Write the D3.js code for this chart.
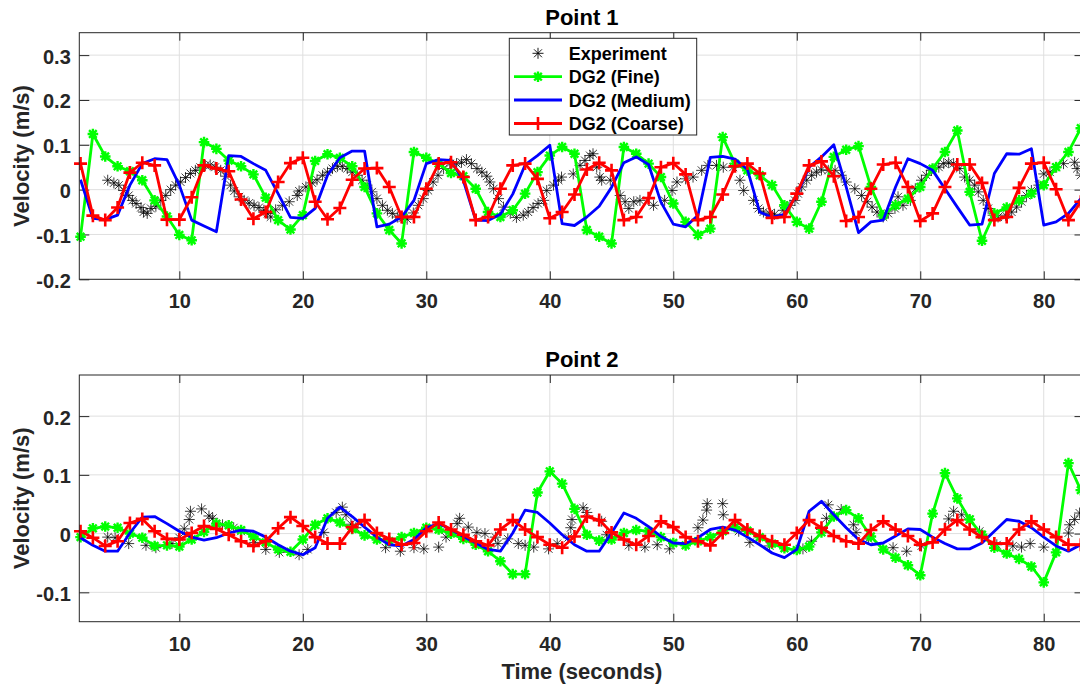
<!DOCTYPE html>
<html><head><meta charset="utf-8">
<script src="https://cdn.jsdelivr.net/npm/d3@7"></script>
<style>
body{margin:0;background:#fff}
text{font-family:"Liberation Sans",Arial,Helvetica,sans-serif;font-weight:bold}
</style>
</head><body><svg id="c" width="1080" height="688"></svg>
<script>
// ---------------- data ----------------
const times = [2,3,4,5,6,7,8,9,10,11,12,13,14,15,16,17,18,19,20,21,22,23,24,25,26,27,28,29,30,31,32,33,34,35,36,37,38,39,40,41,42,43,44,45,46,47,48,49,50,51,52,53,54,55,56,57,58,59,60,61,62,63,64,65,66,67,68,69,70,71,72,73,74,75,76,77,78,79,80,81,82,83];
const xTickValues = [10,20,30,40,50,60,70,80];
const p1YTicks = [-0.2,-0.1,0,0.1,0.2,0.3];
const p2YTicks = [-0.1,0,0.1,0.2];
const seriesNames = ["Experiment","DG2 (Fine)","DG2 (Medium)","DG2 (Coarse)"];
const panelTitles = ["Point 1","Point 2"];

const p1Fine = [-0.105,0.124,0.074,0.052,0.041,0.021,-0.024,-0.060,-0.101,-0.113,
 0.106,0.091,0.065,0.052,0.034,-0.018,-0.068,-0.089,-0.057,0.064,
 0.079,0.071,0.052,0.006,-0.053,-0.090,-0.120,0.084,0.071,0.058,
 0.037,0.030,0.002,-0.050,-0.061,-0.046,-0.009,0.039,0.076,0.095,
 0.080,-0.090,-0.105,-0.120,0.095,0.080,0.058,0.028,-0.031,-0.072,
 -0.101,-0.087,0.117,0.058,0.043,0.032,0.010,-0.035,-0.072,-0.087,
 -0.027,0.073,0.089,0.097,0.006,-0.057,-0.035,-0.020,0.006,0.047,
 0.084,0.132,-0.005,-0.114,-0.053,-0.040,-0.024,-0.009,0.010,0.050,
 0.084,0.137];
const p1Medium = [0.022,-0.064,-0.067,-0.057,0.010,0.058,0.069,0.067,0.010,-0.068,
 -0.081,-0.094,0.076,0.074,0.058,0.043,-0.009,-0.062,-0.064,-0.042,
 0.032,0.071,0.086,0.086,-0.083,-0.077,-0.061,-0.024,0.058,0.067,
 0.065,0.020,-0.068,-0.069,-0.055,-0.010,0.055,0.076,0.099,-0.076,
 -0.080,-0.061,-0.037,0.005,0.060,0.073,0.056,-0.028,-0.077,-0.083,
 -0.057,0.072,0.074,0.068,0.045,-0.050,-0.062,-0.055,-0.012,0.050,
 0.073,0.100,0.006,-0.096,-0.072,-0.068,0.006,0.069,0.058,0.043,
 0.002,-0.039,-0.079,-0.077,0.036,0.080,0.079,0.091,-0.079,-0.072,
 -0.053,-0.020];
const p1Coarse = [0.058,-0.058,-0.068,-0.040,0.038,0.060,0.054,-0.067,-0.067,-0.017,
 0.054,0.047,0.041,-0.022,-0.065,-0.050,0.017,0.059,0.071,-0.027,
 -0.066,-0.041,0.022,0.047,0.048,0.006,-0.061,-0.061,0.002,0.058,
 0.061,0.028,-0.068,-0.061,0.002,0.054,0.058,0.024,-0.064,-0.050,
 -0.011,0.045,0.060,0.043,-0.068,-0.061,-0.019,0.050,0.059,0.034,
 -0.068,-0.061,-0.011,0.052,0.058,0.036,-0.063,-0.061,-0.009,0.054,
 0.063,0.030,-0.070,-0.061,0.002,0.056,0.060,0.006,-0.070,-0.053,
 0.006,0.056,0.056,0.015,-0.068,-0.061,0.004,0.058,0.060,0.001,
 -0.068,-0.027];
const p1Experiment = [[4.2,0.021],[4.7,0.015],[5.1,0.010],[5.5,-0.002],[5.9,-0.013],[6.2,-0.024],[6.5,-0.031],[6.9,-0.040],[7.1,-0.050],[7.4,-0.053],[7.7,-0.042],[8.1,-0.037],[8.5,-0.024],[8.9,-0.013],[9.3,0.000],[9.7,0.010],[10.1,0.017],[10.5,0.027],[10.9,0.036],[11.3,0.043],[11.7,0.050],[12.1,0.054],[12.5,0.055],[12.9,0.050],[13.35,0.043],[13.75,0.030],[14.15,0.010],[14.45,-0.003],[14.85,-0.016],[15.25,-0.024],[15.65,-0.030],[16.05,-0.035],[16.45,-0.040],[16.85,-0.046],[17.15,-0.053],[17.4,-0.061],[17.8,-0.045],[18.35,-0.035],[18.9,-0.027],[19.55,-0.013],[19.7,-0.003],[20.25,0.006],[20.75,0.015],[21.15,0.022],[21.6,0.032],[22.0,0.039],[22.4,0.047],[22.8,0.052],[23.2,0.052],[23.6,0.047],[24.0,0.039],[24.4,0.032],[24.8,0.021],[25.2,0.010],[25.6,-0.005],[26.0,-0.020],[26.45,-0.035],[26.85,-0.046],[27.25,-0.053],[27.65,-0.061],[28.05,-0.064],[28.45,-0.066],[28.95,-0.052],[29.35,-0.035],[29.75,-0.020],[30.15,-0.002],[30.55,0.017],[30.95,0.032],[31.4,0.047],[31.9,0.058],[32.45,0.058],[32.85,0.061],[33.25,0.067],[33.65,0.058],[34.1,0.047],[34.5,0.039],[34.9,0.030],[35.15,0.017],[35.45,0.002],[35.85,-0.020],[36.25,-0.039],[36.8,-0.053],[37.3,-0.062],[37.85,-0.057],[38.25,-0.050],[38.65,-0.040],[39.05,-0.031],[39.5,-0.024],[39.75,-0.002],[40.3,0.010],[40.7,0.021],[40.95,0.028],[41.9,0.035],[42.45,0.054],[42.85,0.065],[43.25,0.076],[43.5,0.080],[43.8,0.050],[44.05,0.028],[44.2,0.021],[44.9,0.021],[45.7,-0.013],[46.1,-0.027],[46.4,-0.042],[46.8,-0.027],[47.3,-0.024],[48.4,-0.035],[49.3,-0.024],[49.9,-0.002],[50.3,0.017],[51.0,0.024],[51.6,0.028],[52.3,0.043],[52.8,0.054],[53.5,0.054],[54.05,0.050],[54.85,0.050],[55.4,0.021],[55.7,-0.002],[56.5,-0.024],[56.9,-0.042],[57.3,-0.050],[57.8,-0.053],[58.2,-0.055],[58.9,-0.046],[59.45,-0.035],[59.85,-0.024],[60.1,-0.009],[60.4,0.006],[60.8,0.021],[61.2,0.032],[61.6,0.039],[62.0,0.044],[62.55,0.043],[63.1,0.043],[63.6,0.032],[64.0,0.017],[64.7,0.002],[65.25,-0.013],[65.7,-0.027],[66.1,-0.039],[66.5,-0.050],[67.0,-0.061],[67.4,-0.053],[67.95,-0.042],[68.2,-0.016],[68.6,-0.035],[69.2,-0.024],[69.6,0.002],[70.1,0.021],[70.5,0.032],[70.9,0.043],[71.5,0.050],[71.9,0.058],[72.3,0.060],[72.7,0.058],[73.2,0.047],[73.6,0.028],[74.0,0.021],[74.4,0.010],[74.7,-0.005],[75.1,-0.024],[75.5,-0.042],[75.9,-0.057],[76.3,-0.061],[76.9,-0.057],[77.4,-0.050],[77.8,-0.039],[78.2,-0.027],[78.6,-0.013],[79.0,-0.002],[79.6,0.010],[80.0,0.035],[80.5,0.039],[81.0,0.050],[81.6,0.058],[82.5,0.061],[82.7,0.047],[83.0,0.032]];

const p2Fine = [-0.006,0.009,0.012,0.010,0.000,-0.007,-0.021,-0.020,-0.022,-0.010,
 0.003,0.017,0.014,0.006,-0.005,-0.015,-0.027,-0.031,-0.010,0.015,
 0.026,0.019,0.008,-0.003,-0.010,-0.013,-0.006,0.001,0.010,0.007,
 0.000,-0.009,-0.019,-0.030,-0.047,-0.069,-0.069,0.070,0.106,0.085,
 0.042,-0.002,-0.012,-0.010,0.001,0.006,0.004,-0.006,-0.016,-0.020,
 -0.013,-0.006,0.004,0.011,0.005,-0.006,-0.017,-0.025,-0.028,-0.022,
 0.002,0.029,0.040,0.026,-0.005,-0.027,-0.041,-0.054,-0.071,0.034,
 0.103,0.060,0.024,-0.002,-0.024,-0.034,-0.043,-0.056,-0.083,-0.032,
 0.120,0.074];
const p2Medium = [-0.007,-0.020,-0.030,-0.030,0.001,0.028,0.029,0.017,0.004,-0.006,
 -0.011,-0.007,0.001,0.006,0.004,-0.006,-0.019,-0.030,-0.036,-0.024,
 0.026,0.045,0.029,0.011,-0.006,-0.019,-0.021,-0.010,0.010,0.017,
 0.007,-0.005,-0.016,-0.027,-0.030,0.001,0.040,0.036,0.018,-0.002,
 -0.019,-0.030,-0.030,0.001,0.035,0.026,0.012,-0.005,-0.016,-0.017,
 -0.007,0.007,0.011,0.006,-0.006,-0.019,-0.033,-0.041,-0.027,0.038,
 0.055,0.032,0.010,-0.010,-0.019,-0.016,-0.004,0.008,0.007,-0.006,
 -0.017,-0.026,-0.026,-0.016,0.004,0.024,0.021,0.010,-0.006,-0.021,
 -0.030,-0.019];
const p2Coarse = [0.004,-0.007,-0.021,-0.013,0.018,0.025,0.004,-0.009,-0.010,0.001,
 0.013,0.008,-0.002,-0.013,-0.021,-0.013,0.009,0.028,0.013,-0.006,
 -0.017,-0.017,0.011,0.023,0.001,-0.009,-0.019,-0.016,0.004,0.019,
 0.007,-0.002,-0.013,-0.020,0.007,0.023,0.007,-0.006,-0.019,-0.024,
 -0.005,0.029,0.023,0.002,-0.010,-0.019,-0.004,0.021,0.011,-0.006,
 -0.013,-0.020,0.001,0.023,0.007,-0.004,-0.013,-0.019,0.001,0.023,
 0.010,-0.004,-0.013,-0.017,0.006,0.021,0.007,-0.004,-0.019,-0.015,
 0.007,0.023,0.007,-0.006,-0.017,-0.017,0.007,0.021,0.007,-0.006,
 -0.019,-0.019];
const p2Experiment = [[4.2,-0.006],[4.8,-0.007],[5.9,-0.017],[7.3,-0.020],[8.1,-0.024],[9.4,-0.017],[10.0,-0.007],[10.4,0.008],[10.8,0.024],[10.9,0.038],[11.8,0.042],[12.4,0.030],[12.7,0.026],[13.5,0.015],[14.4,0.010],[15.0,0.004],[16.1,-0.015],[17.0,-0.027],[18.1,-0.032],[19.7,-0.036],[20.4,-0.027],[21.7,0.002],[22.7,0.036],[23.2,0.045],[23.5,0.032],[23.9,0.016],[24.3,0.010],[26.7,-0.024],[27.9,-0.030],[29.0,-0.024],[29.8,-0.026],[31.0,-0.023],[31.6,-0.006],[32.5,0.017],[32.7,0.026],[33.4,0.011],[34.1,0.002],[34.75,0.0],[35.6,-0.006],[35.8,-0.017],[36.6,-0.009],[37.45,-0.017],[38.0,-0.020],[38.7,-0.023],[39.9,-0.026],[40.6,-0.017],[41.5,-0.007],[41.7,0.010],[41.8,0.024],[42.7,0.044],[43.0,0.036],[44.2,0.021],[44.6,-0.002],[46.4,-0.020],[47.7,-0.023],[48.7,-0.019],[49.7,-0.026],[52.0,0.010],[52.4,0.023],[52.7,0.040],[52.75,0.051],[54.0,0.051],[54.05,0.032],[55.3,0.004],[56.2,-0.015],[57.8,-0.021],[60.5,-0.026],[61.2,-0.013],[62.0,0.007],[62.4,0.026],[62.55,0.049],[63.6,0.041],[64.6,0.015],[64.8,0.002],[65.8,-0.009],[67.8,-0.024],[68.9,-0.030],[70.1,-0.021],[72.3,0.025],[72.7,0.038],[73.35,0.032],[74.0,0.024],[74.8,0.004],[76.2,-0.019],[77.5,-0.021],[78.2,-0.023],[78.9,-0.017],[80.0,-0.023],[82.0,0.001],[82.1,0.015],[82.5,0.024],[82.9,0.035]];

// ---------------- drawing ----------------
const svg = d3.select("#c");
const AX = "#262626";
const X0 = 79.3, X1 = 1084.5;
const xDomain = [1.9, 83.3];

function asterisk(s){
  const d = s*0.72;
  return `M${-s},0L${s},0M0,${-s}L0,${s}M${-d},${-d}L${d},${d}M${-d},${d}L${d},${-d}`;
}
function plus(s){ return `M${-s},0L${s},0M0,${-s}L0,${s}`; }

function panel(id, top, bottom, yDomain, yTicks, title, exp, fine, medium, coarse, showXLabel, showLegend){
  const x = d3.scaleLinear().domain(xDomain).range([X0, X1]);
  const y = d3.scaleLinear().domain(yDomain).range([bottom, top]);
  const g = svg.append("g");

  g.append("clipPath").attr("id","clip"+id).append("rect")
    .attr("x",X0).attr("y",top).attr("width",X1-X0).attr("height",bottom-top);

  // grid
  g.append("g").selectAll("line").data(xTickValues).join("line")
    .attr("x1",d=>x(d)).attr("x2",d=>x(d)).attr("y1",top).attr("y2",bottom)
    .attr("stroke","#dfdfdf").attr("stroke-width",1);
  g.append("g").selectAll("line").data(yTicks).join("line")
    .attr("x1",X0).attr("x2",X1).attr("y1",d=>y(d)).attr("y2",d=>y(d))
    .attr("stroke","#dfdfdf").attr("stroke-width",1);

  const fmt = d => d===0 ? "0" : String(d);

  // axes with inward ticks
  const ab = g.append("g").attr("transform",`translate(0,${bottom})`)
    .call(d3.axisBottom(x).tickValues(xTickValues).tickSizeInner(-8).tickSizeOuter(0).tickPadding(15).tickFormat(fmt));
  const at = g.append("g").attr("transform",`translate(0,${top})`)
    .call(d3.axisTop(x).tickValues(xTickValues).tickSizeInner(-8).tickSizeOuter(0).tickFormat(""));
  const al = g.append("g").attr("transform",`translate(${X0},0)`)
    .call(d3.axisLeft(y).tickValues(yTicks).tickSizeInner(-10).tickSizeOuter(0).tickPadding(8.5).tickFormat(fmt));
  const ar = g.append("g").attr("transform",`translate(${X1},0)`)
    .call(d3.axisRight(y).tickValues(yTicks).tickSizeInner(-10).tickSizeOuter(0).tickFormat(""));
  [ab,at,al,ar].forEach(a=>{
    a.select(".domain").remove();
    a.selectAll(".tick line").attr("stroke",AX).attr("stroke-width",1);
    a.selectAll("text").attr("fill",AX).style("font-size","20px").attr("font-family",null);
  });
  al.selectAll("text").attr("dy","0.4em");

  // series
  const data = g.append("g");
  const lineGen = d3.line().x(d=>x(d[0])).y(d=>y(d[1]));
  const fineP = times.map((t,i)=>[t,fine[i]]);
  const medP = times.map((t,i)=>[t,medium[i]]);
  const coaP = times.map((t,i)=>[t,coarse[i]]);

  // experiment markers
  data.append("g").selectAll("path").data(exp).join("path")
    .attr("transform",d=>`translate(${x(d[0])},${y(d[1])})`)
    .attr("d",asterisk(5.5)).attr("stroke","#000").attr("stroke-width",0.9).attr("fill","none").attr("opacity",0.85);
  // fine
  data.append("path").datum(fineP).attr("d",lineGen).attr("clip-path",`url(#clip${id})`)
    .attr("fill","none").attr("stroke","#00ff00").attr("stroke-width",2.8).attr("stroke-linejoin","round");
  data.append("g").selectAll("path").data(fineP).join("path")
    .attr("transform",d=>`translate(${x(d[0])},${y(d[1])})`)
    .attr("d",asterisk(5.3)).attr("stroke","#00ff00").attr("stroke-width",2.4).attr("fill","none");
  // medium
  data.append("path").datum(medP).attr("d",lineGen).attr("clip-path",`url(#clip${id})`)
    .attr("fill","none").attr("stroke","#0000ff").attr("stroke-width",2.8).attr("stroke-linejoin","round");
  // coarse
  data.append("path").datum(coaP).attr("d",lineGen).attr("clip-path",`url(#clip${id})`)
    .attr("fill","none").attr("stroke","#ff0000").attr("stroke-width",2.8).attr("stroke-linejoin","round");
  data.append("g").selectAll("path").data(coaP).join("path")
    .attr("transform",d=>`translate(${x(d[0])},${y(d[1])})`)
    .attr("d",plus(6.5)).attr("stroke","#ff0000").attr("stroke-width",2.6).attr("fill","none");

  // box
  g.append("rect").attr("x",X0).attr("y",top).attr("width",X1-X0).attr("height",bottom-top)
    .attr("fill","none").attr("stroke",AX).attr("stroke-width",1);

  // title
  g.append("text").attr("x",(X0+X1)/2).attr("y",top-8).attr("text-anchor","middle")
    .style("font-size","22px").attr("fill","#000").text(title);
  // y label
  g.append("text").attr("transform",`translate(29,${(top+bottom)/2}) rotate(-90)`)
    .attr("text-anchor","middle").style("font-size","22px").attr("fill",AX).text("Velocity (m/s)");
  if(showXLabel){
    g.append("text").attr("x",(X0+X1)/2).attr("y",bottom+57.5).attr("text-anchor","middle")
      .style("font-size","22px").attr("fill",AX).text("Time (seconds)");
  }
  if(showLegend){
    const L = g.append("g");
    L.append("rect").attr("x",509.3).attr("y",38.3).attr("width",187.4).attr("height",96.7)
      .attr("fill","#fff").attr("stroke",AX).attr("stroke-width",1);
    const rows = [53.3,76.7,100,123.5];
    const x1 = 514, x2 = 562, xm = 538;
    L.append("path").attr("transform",`translate(${xm},${rows[0]})`).attr("d",asterisk(5.5))
      .attr("stroke","#000").attr("stroke-width",0.9).attr("fill","none");
    L.append("line").attr("x1",x1).attr("x2",x2).attr("y1",rows[1]).attr("y2",rows[1]).attr("stroke","#00ff00").attr("stroke-width",2.8);
    L.append("path").attr("transform",`translate(${xm},${rows[1]})`).attr("d",asterisk(5.3))
      .attr("stroke","#00ff00").attr("stroke-width",2.4).attr("fill","none");
    L.append("line").attr("x1",x1).attr("x2",x2).attr("y1",rows[2]).attr("y2",rows[2]).attr("stroke","#0000ff").attr("stroke-width",2.8);
    L.append("line").attr("x1",x1).attr("x2",x2).attr("y1",rows[3]).attr("y2",rows[3]).attr("stroke","#ff0000").attr("stroke-width",2.8);
    L.append("path").attr("transform",`translate(${xm},${rows[3]})`).attr("d",plus(6.5))
      .attr("stroke","#ff0000").attr("stroke-width",2.6).attr("fill","none");
    L.selectAll("text.lg").data(seriesNames).join("text").attr("class","lg")
      .attr("x",568.7).attr("y",(d,i)=>rows[i]+6.5).style("font-size","18px").attr("fill","#000").text(d=>d);
  }
}

panel(1, 32.7, 279.3, [-0.2,0.35], p1YTicks, panelTitles[0], p1Experiment, p1Fine, p1Medium, p1Coarse, false, true);
panel(2, 375, 621.7, [-0.15,0.27], p2YTicks, panelTitles[1], p2Experiment, p2Fine, p2Medium, p2Coarse, true, false);
</script>
</body></html>
